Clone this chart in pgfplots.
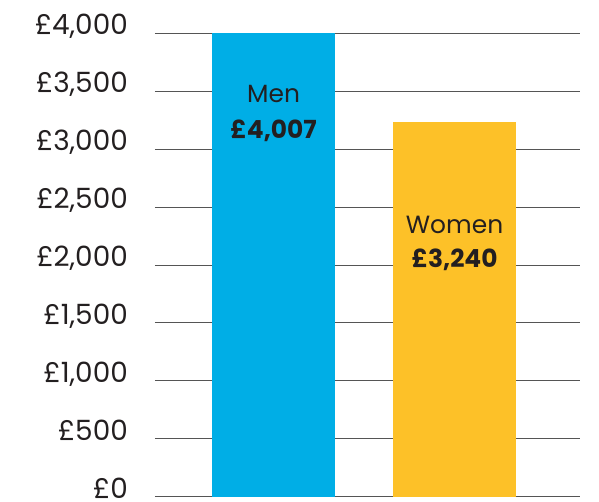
\documentclass[border=0pt]{standalone}
\usepackage{pgfplots}
\pgfplotsset{compat=1.18}
\usepackage{fontspec}
\setmainfont{Poppins}
\definecolor{menblue}{HTML}{00AEE6}
\definecolor{womyellow}{HTML}{FDC128}
\definecolor{txt}{HTML}{231F20}
\definecolor{gridc}{HTML}{555555}
\begin{document}
\begin{tikzpicture}
\begin{axis}[
  scale only axis, width=425bp, height=463.2bp,
  xmin=-0.655, xmax=1.693, ymin=0, ymax=4000,
  axis line style={draw=none},
  xtick=\empty,
  ytick={0,500,...,4000},
  major tick length=0pt,
  ymajorgrids, grid style={gridc, line width=1bp},
  /pgf/number format/.cd, 1000 sep={,}, assume math mode=true, /pgfplots/.cd,
  yticklabel={£\pgfmathprintnumber{\tick}},
  yticklabel style={font=\fontsize{28}{30}\selectfont, text=txt, anchor=base east, inner sep=0pt, xshift=-27bp, yshift=-1.5bp},
  ybar, bar shift=0pt, bar width=0.68,
]
\addplot[draw=none, fill=menblue] coordinates {(0,4007)};
\addplot[draw=none, fill=womyellow] coordinates {(1,3240)};
\node[anchor=base, text=txt, font=\fontsize{25}{27}\selectfont] at (axis cs:0,3400) {Men};
\node[anchor=base, text=txt, font=\fontsize{25}{27}\selectfont\bfseries] at (axis cs:0,3089) {£4,007};
\node[anchor=base, text=txt, font=\fontsize{25}{27}\selectfont] at (axis cs:1,2269) {Women};
\node[anchor=base, text=txt, font=\fontsize{25}{27}\selectfont\bfseries] at (axis cs:1,1975) {£3,240};
\end{axis}
\pgfresetboundingbox
\path[use as bounding box] ([xshift=-155bp,yshift=-5.3bp]current axis.south west) rectangle ([xshift=19bp,yshift=33.5bp]current axis.north east);
\end{tikzpicture}
\end{document}
